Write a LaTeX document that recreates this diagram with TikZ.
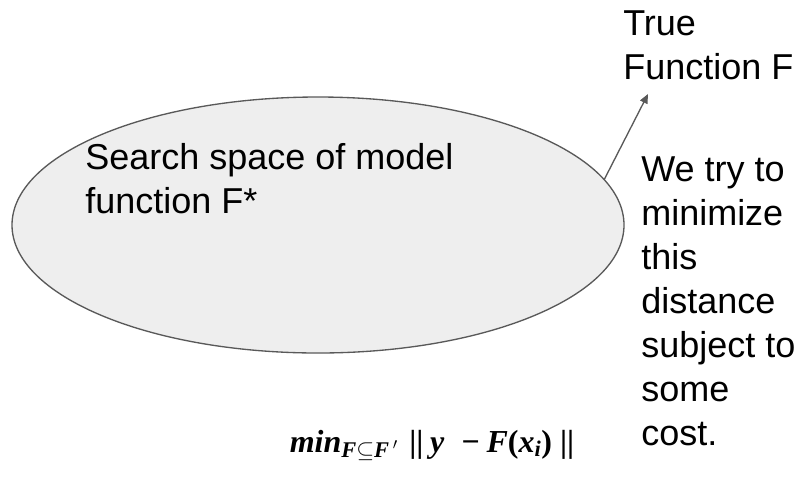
\documentclass[tikz,border=0pt]{standalone}
\usepackage{fontspec}
\setmainfont{Liberation Sans}
\newfontfamily\frmfont{Liberation Serif}
\usetikzlibrary{shapes.geometric, arrows.meta}
\definecolor{spacegray}{RGB}{238, 238, 238}
\definecolor{edgegray}{RGB}{89, 89, 89}

\begin{document}
\begin{tikzpicture}[
  x=0.75pt, y=-0.75pt,
  space/.style={ellipse, draw=edgegray, fill=spacegray, line width=1pt, minimum width=459pt, minimum height=192pt, inner sep=0pt, outer sep=0pt},
  txt/.style={anchor=north west, align=left, inner sep=0pt, font=\fontsize{27pt}{33pt}\selectfont},
  arr/.style={-{Triangle[length=7pt, width=6pt]}, draw=edgegray, line width=1pt},
  formula/.style={anchor=base, inner sep=0pt, font=\frmfont\bfseries\fontsize{24pt}{28pt}\selectfont}
]
  \useasboundingbox (0, 0) rectangle (803, 480);

  % search space
  \node[space] (srch) at (318, 225) {};
  \node[txt] (srchtxt) at (85, 143) {Search space of model\\function F*};

  % true function
  \node[txt] (truef) at (623, 10) {True\\Function F};
  \coordinate (ftip) at (648, 94);
  \draw[arr] (srch.9.9) -- (ftip);

  % note on the right
  \node[txt] (note) at (641, 156) {We try to\\minimize\\this\\distance\\subject to\\some\\cost.};

  % objective
  \node[formula] (obj) at (432, 452) {\textit{min}\textsubscript{\textit{F}$\subseteq$\textit{F}\,$'$}\hspace{8pt}||\hspace{5pt}\textit{y}\hspace{13pt}−\hspace{5pt}\textit{F}(\textit{x}\textsubscript{\textit{i}})\hspace{6pt}||};
\end{tikzpicture}
\end{document}
